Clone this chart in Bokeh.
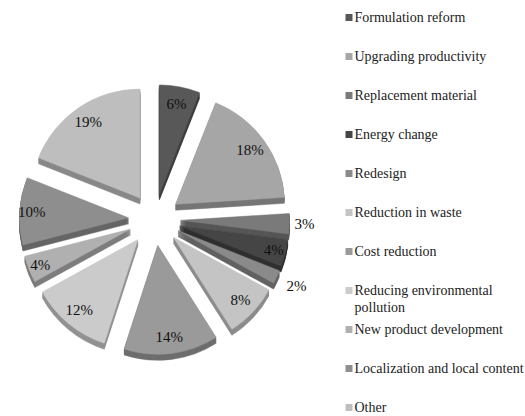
import numpy as np
from bokeh.plotting import figure
from bokeh.models import Range1d, ColumnDataSource
from bokeh.core.properties import value
from bokeh.embed import file_html
from bokeh.resources import INLINE

# ---- data ----
categories = ["Formulation reform", "Upgrading productivity", "Replacement material",
              "Energy change", "Redesign", "Reduction in waste", "Cost reduction",
              "Reducing environmental pollution", "New product development",
              "Localization and local content", "Other"]
shares = [6, 18, 3, 4, 2, 8, 14, 12, 4, 10, 19]
legend_lines = ["Formulation reform", "Upgrading productivity", "Replacement material",
                "Energy change", "Redesign", "Reduction in waste", "Cost reduction",
                "Reducing environmental\npollution", "New product development",
                "Localization and local content", "Other"]

# ---- styles ----
colors = ["#585858", "#a6a6a6", "#7a7a7a", "#454545", "#8a8a8a", "#c4c4c4",
          "#9a9a9a", "#cbcbcb", "#b0b0b0", "#8e8e8e", "#bebebe"]
label_r = [118, 118, 150, 123, 157, 118, 118, 118, 123, 123, 118]
FONT = value("Times New Roman")

W, H = 525, 416
cx, cy = 154, H - 219
R = 109
explode = 26
depth = 6

def darker(c, f=0.72):
    v = int(c[1:3], 16)
    v = int(v * f)
    return "#%02x%02x%02x" % (v, v, v)

vals = np.array(shares, dtype=float)
frac = vals / vals.sum()
cum = np.concatenate([[0], np.cumsum(frac)])
a0 = cum[:-1] * 2 * np.pi          # clockwise from top
a1 = cum[1:] * 2 * np.pi
am = (a0 + a1) / 2
start = np.pi / 2 - a0
end = np.pi / 2 - a1
mid = np.pi / 2 - am
xs = cx + explode * np.cos(mid)
ys = cy + explode * np.sin(mid)

p = figure(width=W, height=H, x_range=Range1d(0, W), y_range=Range1d(0, H),
           output_backend="svg", toolbar_location=None, min_border=0)
p.axis.visible = False
p.grid.visible = False
p.outline_line_color = None
p.background_fill_color = "white"

# 3D sides
for d in range(depth, 0, -1):
    src = ColumnDataSource(dict(x=xs, y=ys - d, s=start, e=end,
                                c=[darker(c) for c in colors]))
    p.wedge(x="x", y="y", radius=R, start_angle="s", end_angle="e",
            direction="clock", fill_color="c", line_color="c", line_width=0.5, source=src)

# top faces
src = ColumnDataSource(dict(x=xs, y=ys, s=start, e=end, c=colors))
p.wedge(x="x", y="y", radius=R, start_angle="s", end_angle="e",
        direction="clock", fill_color="c", line_color="c", line_width=0.5, source=src)

# percentage labels
lx = cx + np.array(label_r) * np.cos(mid)
ly = cy + np.array(label_r) * np.sin(mid)
p.text(x=lx, y=ly, text=["%d%%" % v for v in shares], text_align="center",
       text_baseline="middle", text_font=FONT,
       text_font_size="15px", text_color="#111111")

# legend
n = len(categories)
ly0 = H - 17
step = 39.0
leg_y = ly0 - step * np.arange(n)
p.scatter(x=[348.5] * n, y=leg_y, marker="square", size=7, fill_color=colors,
          line_color=None)
p.text(x=[354] * n, y=leg_y + 7.5, text=legend_lines, text_align="left",
       text_baseline="top", text_font=FONT,
       text_font_size="14px", text_color="#222222", text_line_height=1.1)

open("out.html", "w").write(file_html(p, INLINE))
